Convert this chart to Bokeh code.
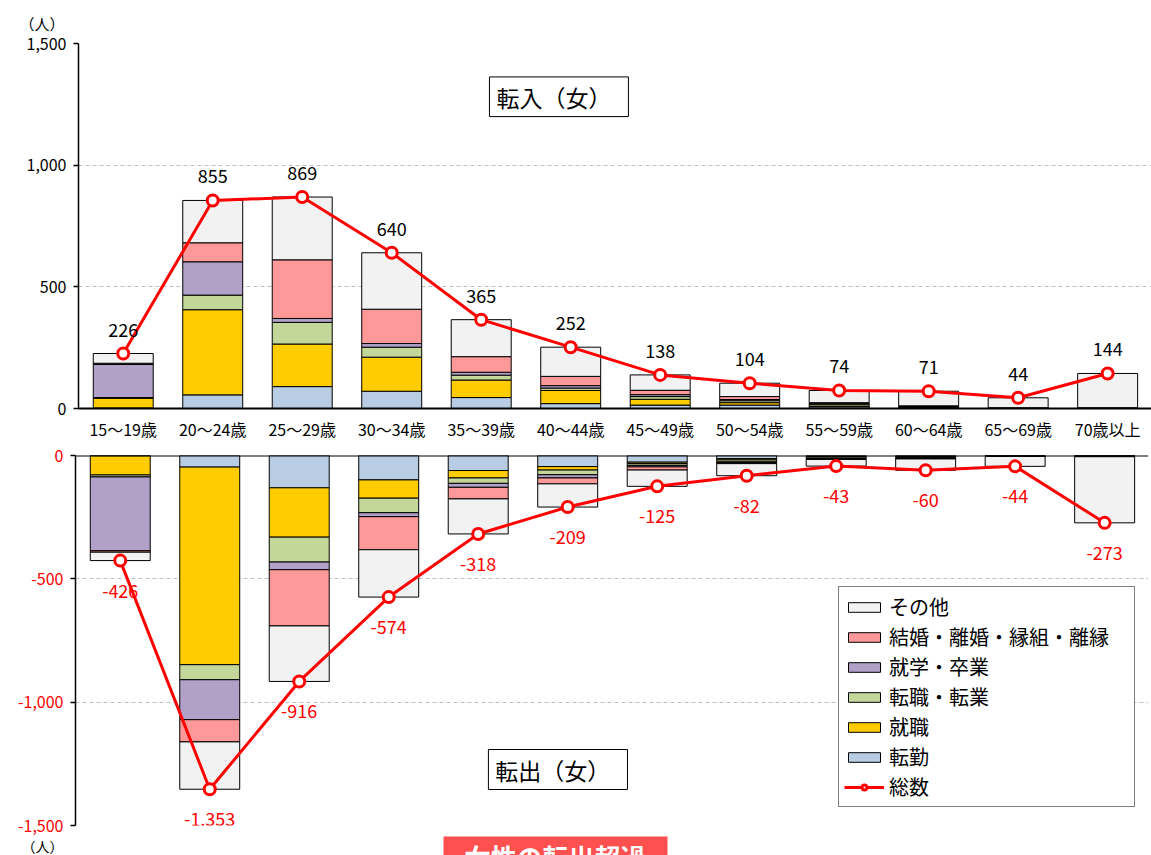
from bokeh.plotting import figure
from bokeh.layouts import column
from bokeh.models import (Range1d, FixedTicker, NumeralTickFormatter, Span, Legend,
                          LegendItem, Label, BoxAnnotation, ColumnDataSource, Title)
from bokeh.core.properties import value
from bokeh.embed import file_html
from bokeh.resources import INLINE

# ---------------- data ----------------
ages = ["15～19歳", "20～24歳", "25～29歳", "30～34歳", "35～39歳", "40～44歳",
        "45～49歳", "50～54歳", "55～59歳", "60～64歳", "65～69歳", "70歳以上"]
reasons = ["転勤", "就職", "転職・転業", "就学・卒業", "結婚・離婚・縁組・離縁", "その他"]
colors = ["#B8CCE4", "#FFCC00", "#C4D79B", "#B1A0C7", "#FF9999", "#F2F2F2"]

# 転入（女）
in_tenkin   = [2, 56, 90, 71, 45, 20, 14, 14, 7, 2, 1, 1]
in_shushoku = [40, 350, 175, 140, 72, 54, 24, 10, 3, 2, 0, 0]
in_tenshoku = [3, 60, 89, 41, 20, 10, 11, 8, 8, 3, 1, 1]
in_shugaku  = [136, 137, 16, 15, 12, 10, 8, 5, 2, 1, 0, 0]
in_kekkon   = [5, 78, 241, 141, 64, 38, 18, 12, 4, 3, 1, 1]
in_sonota   = [40, 174, 258, 232, 152, 120, 63, 55, 50, 60, 41, 141]
in_total    = [226, 855, 869, 640, 365, 252, 138, 104, 74, 71, 44, 144]

# 転出（女）
out_tenkin   = [1, 47, 131, 99, 61, 45, 27, 13, 3, 3, 1, 1]
out_shushoku = [78, 801, 200, 74, 30, 14, 6, 5, 3, 2, 1, 1]
out_tenshoku = [8, 61, 101, 59, 22, 19, 7, 8, 5, 4, 1, 1]
out_shugaku  = [299, 162, 31, 16, 16, 13, 6, 3, 2, 2, 0, 1]
out_kekkon   = [6, 90, 228, 134, 47, 24, 13, 4, 3, 3, 1, 1]
out_sonota   = [34, 192, 225, 192, 142, 94, 66, 49, 27, 46, 40, 268]
out_total    = [-426, -1353, -916, -574, -318, -209, -125, -82, -43, -60, -44, -273]

FONT = "Noto Sans CJK JP"
keys = ["tenkin", "shushoku", "tenshoku", "shugaku", "kekkon", "sonota"]
xs = list(range(len(ages)))

src_in = ColumnDataSource(dict(
    x=xs, tenkin=in_tenkin, shushoku=in_shushoku, tenshoku=in_tenshoku,
    shugaku=in_shugaku, kekkon=in_kekkon, sonota=in_sonota,
    total=in_total, lbl=[f"{v:,}" for v in in_total]))
src_out = ColumnDataSource(dict(
    x=xs, tenkin=[-v for v in out_tenkin], shushoku=[-v for v in out_shushoku],
    tenshoku=[-v for v in out_tenshoku], shugaku=[-v for v in out_shugaku],
    kekkon=[-v for v in out_kekkon], sonota=[-v for v in out_sonota],
    total=out_total, lbl=[f"{v:,}" for v in out_total]))

BAR_W = 0.67
RED = "#FF0000"
X_END = 11.49


def style_common(p):
    p.outline_line_color = None
    p.background_fill_color = "white"
    p.border_fill_color = "white"
    p.xgrid.visible = False
    p.ygrid.grid_line_color = "#BFBFBF"
    p.ygrid.grid_line_dash = "4 3"
    p.ygrid.grid_line_width = 1.2
    ax = p.yaxis[0]
    ax.axis_line_color = "black"
    ax.axis_line_width = 1.5
    ax.major_tick_line_color = "black"
    ax.major_tick_line_width = 1.5
    ax.major_tick_out = 5
    ax.major_tick_in = 0
    ax.minor_tick_line_color = None
    ax.major_label_text_font = FONT
    ax.major_label_text_font_size = "16px"
    ax.major_label_standoff = 7
    ax.formatter = NumeralTickFormatter(format="0,0")


# ---------------- top: 転入 ----------------
p1 = figure(width=1151, height=443, x_range=Range1d(-0.5, X_END), y_range=Range1d(0, 1500),
            output_backend="svg", toolbar_location=None,
            min_border_left=78, min_border_right=0, min_border_top=43, min_border_bottom=32)
p1.frame_align = False
style_common(p1)
p1.yaxis[0].ticker = FixedTicker(ticks=[0, 500, 1000, 1500])
p1.yaxis[0].bounds = (0, 1500)
p1.yaxis[0].major_label_text_color = "#000000"

p1.vbar_stack(keys, x="x", width=BAR_W, source=src_in, fill_color=colors,
              line_color="#000000", line_width=1)
p1.line("x", "total", source=src_in, line_color=RED, line_width=3)
p1.scatter("x", "total", source=src_in, size=11, fill_color="white",
           line_color=RED, line_width=3)
p1.text("x", "total", text="lbl", source=src_in, text_align="center",
        text_baseline="middle", y_offset=-24, text_font=value(FONT),
        text_font_size="18px", text_color="#000000")

xa = p1.xaxis[0]
xa.ticker = FixedTicker(ticks=xs)
xa.major_label_overrides = {i: a for i, a in enumerate(ages)}
xa.axis_line_color = "black"
xa.axis_line_width = 2
xa.major_tick_line_color = None
xa.minor_tick_line_color = None
xa.major_tick_out = 0
xa.major_tick_in = 0
xa.major_label_standoff = 8
xa.major_label_text_font = FONT
xa.major_label_text_font_size = "16px"
xa.major_label_text_color = "#000000"

p1.add_layout(BoxAnnotation(left=4.092, right=5.645, bottom=1199.6, top=1362.6,
                            fill_color="white", fill_alpha=1.0,
                            line_color="black", line_width=1, line_alpha=1.0))
p1.add_layout(Label(x=4.17, y=1281, text="転入（女）", text_align="left",
                    text_baseline="middle", text_font=FONT, text_font_size="23px",
                    text_color="#000000"))
p1.add_layout(Title(text="（人）", align="left", offset=-59, standoff=20,
                    text_font=FONT, text_font_size="15px", text_font_style="normal",
                    text_color="#000000"), "above")

# ---------------- bottom: 転出 ----------------
p2 = figure(width=1148, height=393, x_range=Range1d(-0.5, X_END), y_range=Range1d(-1500, 0),
            x_axis_location=None, output_backend="svg", toolbar_location=None,
            min_border_left=75, min_border_right=0, min_border_top=12, min_border_bottom=11)
p2.frame_align = False
style_common(p2)
p2.yaxis[0].ticker = FixedTicker(ticks=[-1500, -1000, -500, 0])
p2.yaxis[0].bounds = (-1500, 0)
p2.yaxis[0].major_label_text_color = RED

r_out = p2.vbar_stack(keys, x="x", width=BAR_W, source=src_out, fill_color=colors,
                      line_color="#000000", line_width=1)
p2.add_layout(Span(location=0, dimension="width", line_color="black", line_width=2))
l2 = p2.line("x", "total", source=src_out, line_color=RED, line_width=3)
c2 = p2.scatter("x", "total", source=src_out, size=11, fill_color="white",
                line_color=RED, line_width=3)
p2.text("x", "total", text="lbl", source=src_out, text_align="center",
        text_baseline="middle", y_offset=30, text_font=value(FONT),
        text_font_size="18px", text_color=RED)

p2.add_layout(BoxAnnotation(left=4.114, right=5.668, bottom=-1354, top=-1191.9,
                            fill_color="white", fill_alpha=1.0,
                            line_color="black", line_width=1, line_alpha=1.0))
p2.add_layout(Label(x=4.19, y=-1273, text="転出（女）", text_align="left",
                    text_baseline="middle", text_font=FONT, text_font_size="23px",
                    text_color="#000000"))

items = [LegendItem(label=reasons[i], renderers=[r_out[i]]) for i in reversed(range(6))]
items.append(LegendItem(label="総数", renderers=[l2, c2]))
legend = Legend(items=items, location=(763, 18), orientation="vertical",
                label_text_font=FONT, label_text_font_size="20px",
                label_text_color="#000000",
                glyph_width=40, glyph_height=12, label_height=24, label_width=240,
                label_standoff=5, spacing=1, padding=5, margin=0,
                border_line_color="black", border_line_width=1,
                background_fill_color="white", background_fill_alpha=1.0)
p2.add_layout(legend)

# ---------------- strip below the chart ----------------
p3 = figure(width=1151, height=19, x_range=Range1d(0, 1151), y_range=Range1d(0, 19),
            x_axis_location=None, y_axis_location=None, output_backend="svg",
            toolbar_location=None, min_border_left=0, min_border_right=0,
            min_border_top=0, min_border_bottom=0)
p3.frame_align = False
p3.outline_line_color = None
p3.xgrid.visible = False
p3.ygrid.visible = False
p3.add_layout(Label(x=42, y=9.5, text="（人）", text_align="center",
                    text_baseline="middle", text_font=FONT, text_font_size="14px",
                    text_color="#000000"))
p3.add_layout(BoxAnnotation(left=443, right=667, bottom=-10, top=30,
                            fill_color="#FF5050", fill_alpha=1.0, line_color=None))
p3.add_layout(Label(x=555, y=18, text="女性の転出超過", text_align="center",
                    text_baseline="top", text_font=FONT, text_font_size="26px",
                    text_font_style="bold", text_color="white"))

layout = column(p1, p2, p3, spacing=0)
open("out.html", "w").write(file_html(layout, INLINE))
